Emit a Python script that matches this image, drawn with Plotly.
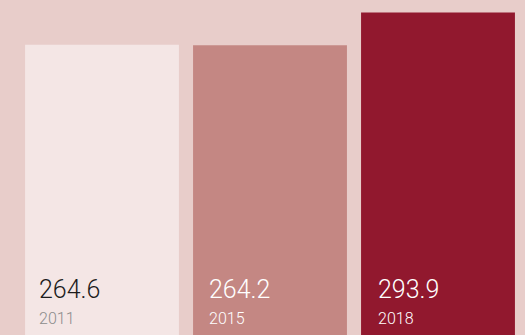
import plotly.graph_objects as go

# Data
years = ["2011", "2015", "2018"]
values = [264.6, 264.2, 293.9]
bar_colors = ["#f4e6e5", "#c48783", "#91182e"]
value_colors = ["#1c1c1c", "#ffffff", "#ffffff"]
year_colors = ["#8c8c8c", "#ffffff", "#ffffff"]
label_shift = [12, 14, 15]  # horizontal padding of the labels inside each bar

BG = "#e8cdca"
FONT = "Roboto"

fig = go.Figure(
    go.Bar(
        x=years,
        y=values,
        marker=dict(color=bar_colors, line=dict(width=0)),
        hoverinfo="skip",
    )
)

half = 0.458  # half bar width in category units (1 - bargap) / 2
annotations = []
for i, (yr, v) in enumerate(zip(years, values)):
    annotations.append(dict(
        x=i - half, xref="x", y=0, yref="paper",
        xanchor="left", yanchor="bottom", xshift=label_shift[i], yshift=29,
        text=f"{v:.1f}", showarrow=False,
        font=dict(family=FONT, size=25, color=value_colors[i], weight=300),
    ))
    annotations.append(dict(
        x=i - half, xref="x", y=0, yref="paper",
        xanchor="left", yanchor="bottom", xshift=label_shift[i], yshift=5,
        text=yr, showarrow=False,
        font=dict(family=FONT, size=16, color=year_colors[i], weight=300),
    ))

fig.update_layout(
    width=525, height=335,
    margin=dict(l=18, r=3, t=0, b=0),
    paper_bgcolor=BG, plot_bgcolor=BG,
    bargap=0.084,
    showlegend=False,
    xaxis=dict(visible=False, type="category"),
    yaxis=dict(visible=False, range=[0, 305.4]),
    annotations=annotations,
)

fig.write_html("out.html", config={"displayModeBar": False})
